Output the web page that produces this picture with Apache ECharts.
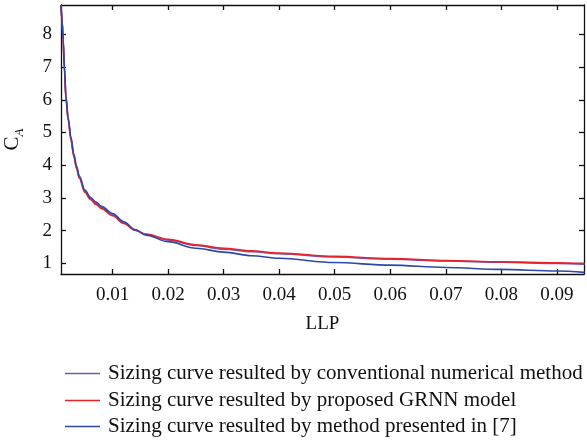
<!DOCTYPE html>
<html>
<head>
<meta charset="utf-8">
<script src="https://cdn.jsdelivr.net/npm/echarts@6/dist/echarts.min.js"></script>
<style>
  html, body { margin: 0; padding: 0; background: #fff; }
  #chart { width: 587px; height: 443px; }
</style>
</head>
<body>
<div id="chart"></div>
<script>
// LLP sample points shared by all three sizing curves
const llp = [0.0007, 0.0009, 0.0011, 0.0013, 0.0016, 0.002, 0.0025, 0.003, 0.0035, 0.004, 0.005, 0.006,
             0.007, 0.008, 0.01, 0.012, 0.014, 0.016, 0.02, 0.025, 0.03, 0.035, 0.04, 0.05, 0.06, 0.07, 0.08, 0.09, 0.095];

// C_A along each sizing curve
const conventional = [8.9, 8.4, 7.8, 7.0, 6.05, 5.4, 4.8, 4.3, 3.93, 3.63, 3.2, 2.98,
                      2.83, 2.7, 2.48, 2.24, 2.02, 1.88, 1.71, 1.54, 1.43, 1.35, 1.29, 1.19, 1.12, 1.07, 1.03, 0.99, 0.97];
const grnn         = [8.9, 8.38, 7.75, 6.95, 6.0, 5.36, 4.76, 4.27, 3.9, 3.6, 3.17, 2.95,
                      2.8, 2.67, 2.45, 2.22, 2.01, 1.89, 1.73, 1.56, 1.46, 1.38, 1.31, 1.21, 1.14, 1.08, 1.04, 1.01, 0.99];
const method7      = [8.9, 8.42, 7.85, 7.05, 6.1, 5.44, 4.85, 4.35, 3.97, 3.67, 3.24, 3.02,
                      2.87, 2.74, 2.52, 2.27, 2.03, 1.86, 1.66, 1.46, 1.34, 1.23, 1.15, 1.02, 0.94, 0.87, 0.81, 0.76, 0.72];

const seriesNames = [
  'Sizing curve resulted by conventional numerical method',
  'Sizing curve resulted by proposed GRNN model',
  'Sizing curve resulted by method presented in [7]'
];
const seriesColors = ['#7657b3', '#e5232b', '#2c48aa'];

const xTicks = [0.01, 0.02, 0.03, 0.04, 0.05, 0.06, 0.07, 0.08, 0.09];
const yTicks = [1, 2, 3, 4, 5, 6, 7, 8];

const FONT = 'Liberation Serif';
const xRange = [0.0007, 0.0949];
const yRange = [0.67, 8.9];

const pair = (ys) => llp.map((x, i) => [x, ys[i]]);

function xAxisDef(position, showLabels) {
  return {
    type: 'value', position: position, min: xRange[0], max: xRange[1],
    name: showLabels ? 'LLP' : '', nameLocation: 'middle', nameGap: 41,
    nameTextStyle: { fontFamily: FONT, fontSize: 19, color: '#111' },
    axisLine: { show: true, onZero: false, lineStyle: { color: '#111', width: 1.3 } },
    axisTick: { show: true, inside: true, length: 5, customValues: xTicks, lineStyle: { color: '#111', width: 1.3 } },
    axisLabel: { show: showLabels, customValues: xTicks, margin: 12,
                 formatter: v => v.toFixed(2), fontFamily: FONT, fontSize: 19, color: '#111' },
    splitLine: { show: false }
  };
}

function yAxisDef(position, showLabels) {
  return {
    type: 'value', position: position, min: yRange[0], max: yRange[1],
    name: showLabels ? '{c|C}{a|A}' : '', nameLocation: 'middle', nameGap: 35, nameRotate: 90,
    nameTextStyle: {
      fontFamily: FONT, color: '#111',
      rich: {
        c: { fontFamily: FONT, fontSize: 21, color: '#111', verticalAlign: 'top', lineHeight: 24 },
        a: { fontFamily: FONT, fontSize: 13, fontStyle: 'italic', color: '#111', verticalAlign: 'bottom', padding: [6, 0, 0, 0] }
      }
    },
    axisLine: { show: true, onZero: false, lineStyle: { color: '#111', width: 1.3 } },
    axisTick: { show: true, inside: true, length: 5, customValues: yTicks, lineStyle: { color: '#111', width: 1.3 } },
    axisLabel: { show: showLabels, customValues: yTicks, margin: 9,
                 fontFamily: FONT, fontSize: 19, color: '#111' },
    splitLine: { show: false }
  };
}

// one legend row per curve, stacked under the plot
const legendTops = [358, 385, 411];
const legends = seriesNames.map((n, i) => ({
  orient: 'vertical', left: 60, top: legendTops[i],
  itemWidth: 35, itemHeight: 1.6, icon: 'rect',
  textStyle: { fontFamily: FONT, fontSize: 21, color: '#111', padding: [0, 0, 0, 3] },
  data: [{ name: n, itemStyle: { color: seriesColors[i] } }]
}));

const chart = echarts.init(document.getElementById('chart'), null, { renderer: 'canvas' });

chart.setOption({
  animation: false,
  backgroundColor: '#fff',
  grid: { left: 61, right: 3, top: 5, bottom: 169, containLabel: false, outerBoundsMode: 'none' },
  xAxis: [xAxisDef('bottom', true), xAxisDef('top', false)],
  yAxis: [yAxisDef('left', true), yAxisDef('right', false)],
  legend: legends,
  series: [conventional, grnn, method7].map((ys, i) => ({
    name: seriesNames[i], type: 'line', xAxisIndex: 0, yAxisIndex: 0,
    data: pair(ys), showSymbol: false, symbol: 'none',
    smooth: 0.35, smoothMonotone: 'x',
    lineStyle: { color: seriesColors[i], width: 1.6 },
    itemStyle: { color: seriesColors[i] }
  }))
});
</script>
</body>
</html>
